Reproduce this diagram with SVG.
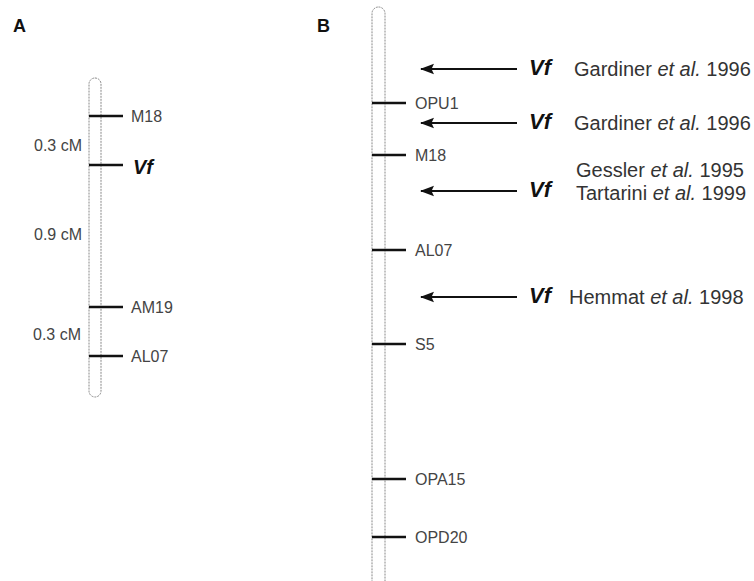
<svg xmlns="http://www.w3.org/2000/svg" width="754" height="581" viewBox="0 0 754 581">
  <defs>
    <style>
      .chrom { fill: none; stroke: #888; stroke-width: 1; stroke-dasharray: 2 1; }
      .tick { stroke: #111; stroke-width: 2.6; }
      .arrow { stroke: #111; stroke-width: 2; fill: none; marker-start: url(#head); }
      .panel { font-family: "Liberation Sans", Arial, sans-serif; font-weight: bold; font-size: 18px; fill: #111; }
      .mk { font-family: "Liberation Sans", Arial, sans-serif; font-size: 16px; fill: #444; }
      .gene { font-family: "Liberation Sans", Arial, sans-serif; font-weight: bold; font-style: italic; fill: #111; }
      .ref { font-family: "Liberation Sans", Arial, sans-serif; font-size: 20px; fill: #333; }
    </style>
    <marker id="head" markerWidth="16" markerHeight="12" refX="1" refY="6" orient="auto" markerUnits="userSpaceOnUse">
      <path d="M0,6 L14,0.8 L11.5,6 L14,11.2 Z" fill="#111"/>
    </marker>
  </defs>

  <!-- panel letters -->
  <text class="panel" x="13" y="32">A</text>
  <text class="panel" x="317" y="32">B</text>

  <!-- Panel A: high-resolution map -->
  <g id="chromA">
    <rect class="chrom" x="89" y="78" width="12" height="319" rx="6"/>
  </g>
  <g id="A-M18">
    <line class="tick" x1="89" y1="116" x2="123" y2="116"/>
    <text class="mk" x="131" y="122">M18</text>
  </g>
  <g id="A-Vf">
    <line class="tick" x1="89" y1="165" x2="123" y2="165"/>
    <text class="gene" x="133" y="174" font-size="20">Vf</text>
  </g>
  <g id="A-AM19">
    <line class="tick" x1="89" y1="307" x2="123" y2="307"/>
    <text class="mk" x="131" y="313">AM19</text>
  </g>
  <g id="A-AL07">
    <line class="tick" x1="89" y1="356" x2="123" y2="356"/>
    <text class="mk" x="131" y="362">AL07</text>
  </g>
  <g id="A-distances">
    <text class="mk" x="34" y="151">0.3 cM</text>
    <text class="mk" x="34" y="240">0.9 cM</text>
    <text class="mk" x="33" y="340">0.3 cM</text>
  </g>

  <!-- Panel B: linkage group with reported Vf positions -->
  <g id="chromB">
    <rect class="chrom" x="372" y="7" width="13" height="620" rx="6.5"/>
  </g>
  <g id="B-OPU1">
    <line class="tick" x1="372" y1="103" x2="406" y2="103"/>
    <text class="mk" x="415" y="109">OPU1</text>
  </g>
  <g id="B-M18">
    <line class="tick" x1="372" y1="155" x2="406" y2="155"/>
    <text class="mk" x="415" y="161">M18</text>
  </g>
  <g id="B-AL07">
    <line class="tick" x1="372" y1="250" x2="406" y2="250"/>
    <text class="mk" x="415" y="256">AL07</text>
  </g>
  <g id="B-S5">
    <line class="tick" x1="372" y1="344" x2="406" y2="344"/>
    <text class="mk" x="415" y="350">S5</text>
  </g>
  <g id="B-OPA15">
    <line class="tick" x1="372" y1="479" x2="406" y2="479"/>
    <text class="mk" x="415" y="485">OPA15</text>
  </g>
  <g id="B-OPD20">
    <line class="tick" x1="372" y1="537" x2="406" y2="537"/>
    <text class="mk" x="415" y="543">OPD20</text>
  </g>

  <g id="connectors">
    <line class="arrow" x1="421" y1="69" x2="517" y2="69"/>
    <line class="arrow" x1="421" y1="123" x2="517" y2="123"/>
    <line class="arrow" x1="421" y1="191" x2="517" y2="191"/>
    <line class="arrow" x1="421" y1="297" x2="517" y2="297"/>
  </g>

  <g id="vf-gardiner-1">
    <text class="gene" x="529" y="75" font-size="22">Vf</text>
    <text class="ref" x="574" y="76">Gardiner <tspan font-style="italic">et al.</tspan> 1996</text>
  </g>
  <g id="vf-gardiner-2">
    <text class="gene" x="529" y="129" font-size="22">Vf</text>
    <text class="ref" x="574" y="130">Gardiner <tspan font-style="italic">et al.</tspan> 1996</text>
  </g>
  <g id="vf-gessler-tartarini">
    <text class="gene" x="529" y="197" font-size="22">Vf</text>
    <text class="ref" x="576" y="177">Gessler <tspan font-style="italic">et al.</tspan> 1995</text>
    <text class="ref" x="576" y="200">Tartarini <tspan font-style="italic">et al.</tspan> 1999</text>
  </g>
  <g id="vf-hemmat">
    <text class="gene" x="529" y="303" font-size="22">Vf</text>
    <text class="ref" x="569" y="304">Hemmat <tspan font-style="italic">et al.</tspan> 1998</text>
  </g>
</svg>
